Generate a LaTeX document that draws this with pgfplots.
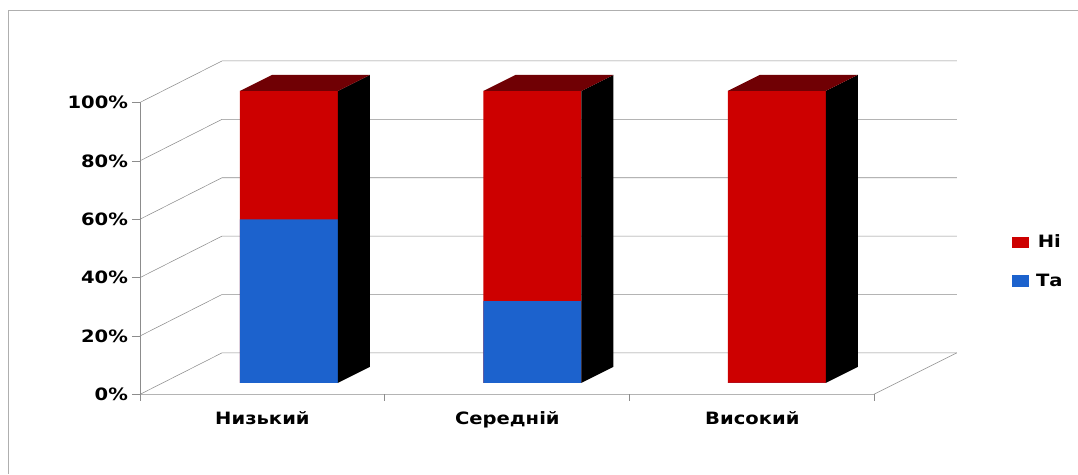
\documentclass[border=0pt]{standalone}
\usepackage{fontspec}
\setmainfont{DejaVu Sans}[FakeStretch=1.15]
\usepackage{pgfplots}
\usepackage{pgfplotstable}
\pgfplotsset{compat=1.18}
\definecolor{barred}{RGB}{205,0,0}
\definecolor{barblue}{RGB}{28,98,205}
\definecolor{topred}{RGB}{112,0,4}
\definecolor{gridc}{RGB}{140,140,140}
\pgfplotstableread{
x ta ni
289 56 44
532.5 28 72
777 0 100
}\data
\begin{document}
\begin{tikzpicture}
\pgfplotsset{sqlegend/.style={legend image code/.code={\fill[##1] (0pt,-4.3pt) rectangle (13pt,4.3pt);}}}
\begin{axis}[
  x=0.75pt, y=2.19pt,
  xmin=0, xmax=1078, ymin=-31.16, ymax=131.16,
  enlargelimits=false, clip=false,
  axis line style={draw=none},
  major tick length=0pt,
  tick style={draw=none},
  ytick={-3.94,16.06,36.06,56.06,76.06,96.06},
  yticklabels={0\%,20\%,40\%,60\%,80\%,100\%},
  yticklabel style={anchor=east, xshift=99.5pt},
  xtick={262.5,507.5,752.5},
  xticklabels={Низький,Середній,Високий},
  xticklabel style={anchor=base, yshift=36.75pt},
  tick label style={font=\fontsize{12.75}{15}\selectfont\bfseries},
  legend style={at={(axis cs:1008,52.6)}, anchor=north west, draw=none, fill=none,
    font=\fontsize{12.75}{15}\selectfont\bfseries, row sep=14pt,
    /tikz/every odd column/.append style={column sep=3pt}},
]
% chart area border (top and left)
\addplot[sharp plot, draw=gridc!70, forget plot] coordinates {(8,-31.16) (8,127.74) (1078,127.74)};
% walls and floor
\addplot[sharp plot, draw=gridc, thin, forget plot] coordinates {(140,-3.94) (222,10.27) (957,10.27)};
\addplot[sharp plot, draw=gridc, thin, forget plot] coordinates {(140,16.06) (222,30.27) (957,30.27)};
\addplot[sharp plot, draw=gridc, thin, forget plot] coordinates {(140,36.06) (222,50.27) (957,50.27)};
\addplot[sharp plot, draw=gridc, thin, forget plot] coordinates {(140,56.06) (222,70.27) (957,70.27)};
\addplot[sharp plot, draw=gridc, thin, forget plot] coordinates {(140,76.06) (222,90.27) (957,90.27)};
\addplot[sharp plot, draw=gridc, thin, forget plot] coordinates {(140,96.06) (222,110.27) (957,110.27)};
\addplot[sharp plot, draw=gridc, thin, forget plot] coordinates {(140,-3.94) (874,-3.94) (957,10.27)};
\addplot[sharp plot, draw=gridc, thin, forget plot] coordinates {(140,-6.16) (140,96.06)};
\addplot[sharp plot, draw=gridc, thin, forget plot] coordinates {(132,-3.94) (140,-3.94)};
\addplot[sharp plot, draw=gridc, thin, forget plot] coordinates {(132,16.06) (140,16.06)};
\addplot[sharp plot, draw=gridc, thin, forget plot] coordinates {(132,36.06) (140,36.06)};
\addplot[sharp plot, draw=gridc, thin, forget plot] coordinates {(132,56.06) (140,56.06)};
\addplot[sharp plot, draw=gridc, thin, forget plot] coordinates {(132,76.06) (140,76.06)};
\addplot[sharp plot, draw=gridc, thin, forget plot] coordinates {(132,96.06) (140,96.06)};
\addplot[sharp plot, draw=gridc, thin, forget plot] coordinates {(384,-3.94) (384,-6.16)};
\addplot[sharp plot, draw=gridc, thin, forget plot] coordinates {(629,-3.94) (629,-6.16)};
\addplot[sharp plot, draw=gridc, thin, forget plot] coordinates {(874,-3.94) (874,-6.16)};
% bars (front faces): red = Та + Ні (full stack), blue = Та drawn over it
\addplot[ybar, bar width=98, fill=barred, draw=none, sqlegend] table[x=x, y expr=\thisrow{ta}+\thisrow{ni}] {\data};
\addlegendentry{Ні}
\addplot[ybar, bar width=98, fill=barblue, draw=none, sqlegend] table[x=x, y=ta] {\data};
\addlegendentry{Та}
% bar side faces
\addplot[sharp plot, fill=black, draw=none, forget plot] coordinates {(338,0) (370,5.48) (370,105.48) (338,100)} -- cycle;
\addplot[sharp plot, fill=black, draw=none, forget plot] coordinates {(581.5,0) (613.5,5.48) (613.5,105.48) (581.5,100)} -- cycle;
\addplot[sharp plot, fill=black, draw=none, forget plot] coordinates {(826,0) (858,5.48) (858,105.48) (826,100)} -- cycle;
% bar top faces
\addplot[sharp plot, fill=topred, draw=none, forget plot] coordinates {(240,100) (272,105.48) (370,105.48) (338,100)} -- cycle;
\addplot[sharp plot, fill=topred, draw=none, forget plot] coordinates {(483.5,100) (515.5,105.48) (613.5,105.48) (581.5,100)} -- cycle;
\addplot[sharp plot, fill=topred, draw=none, forget plot] coordinates {(728,100) (760,105.48) (858,105.48) (826,100)} -- cycle;
\end{axis}
\end{tikzpicture}
\end{document}
